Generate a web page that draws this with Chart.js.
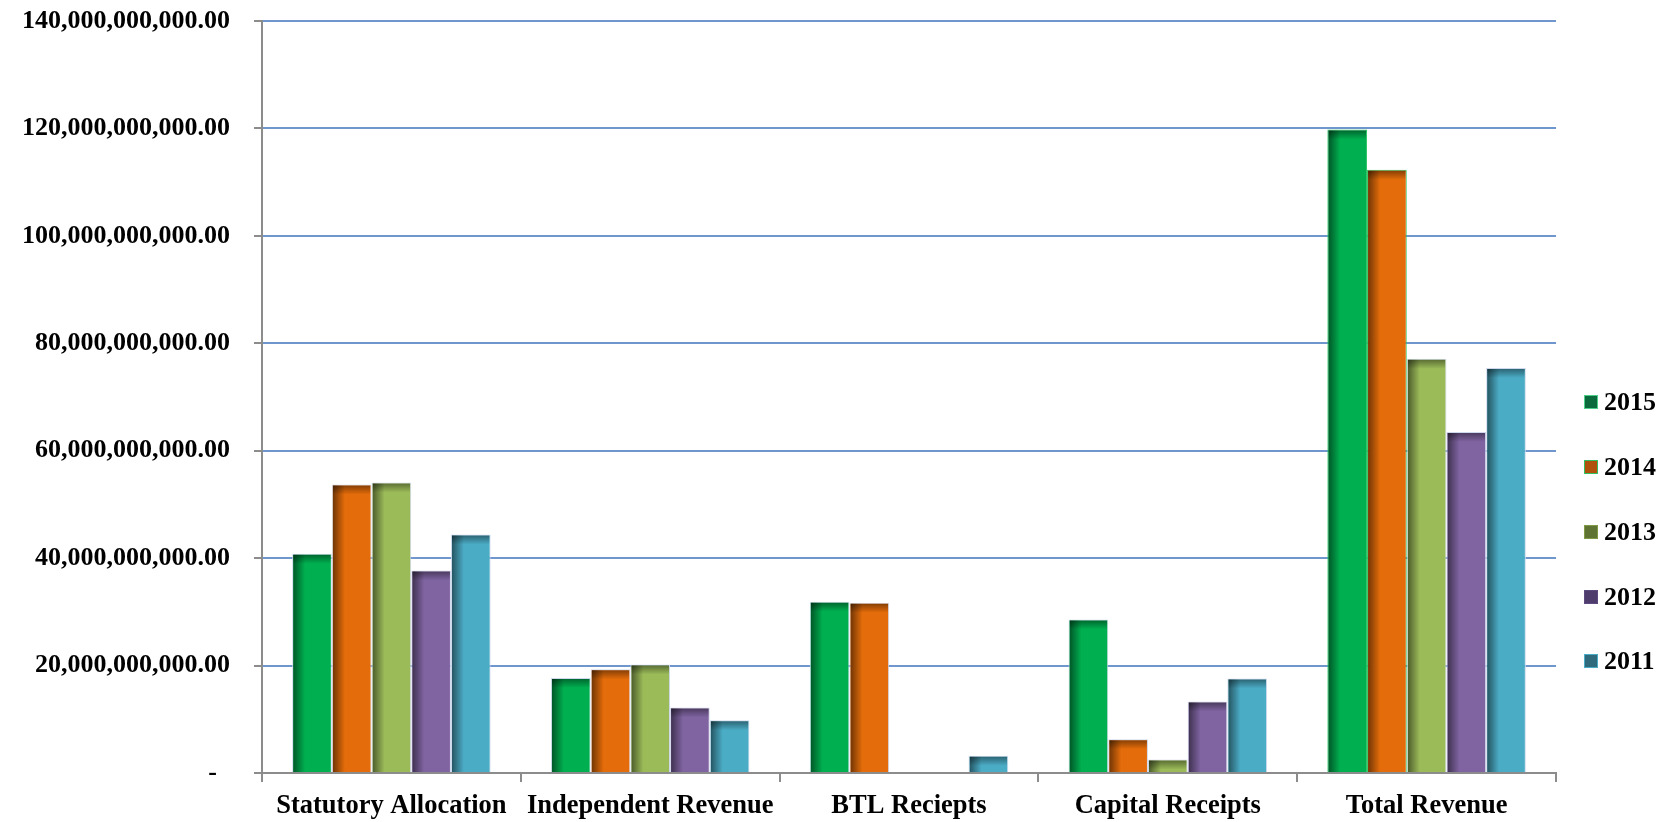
<!DOCTYPE html>
<html lang="en">
<head>
<meta charset="UTF-8" />
<title>Revenue by Source</title>
<script src="https://cdn.jsdelivr.net/npm/chart.js"></script>
<style>
  body {
    margin: 0;
    background: #ffffff;
  }

  #wrap {
    position: relative;
    width: 1664px;
    height: 822px;
  }

  #legend {
    position: absolute;
    left: 1584px;
    top: 370px;
    font-family: 'Liberation Serif', 'Times New Roman', serif;
    font-weight: bold;
    font-size: 26px;
    color: #000;
  }

  .item {
    height: 64.75px;
    display: flex;
    align-items: center;
  }

  .box {
    width: 12px;
    height: 12px;
    margin-right: 6px;
    border: 1px solid;
  }
</style>
</head>
<body>

<div id="wrap">
  <canvas id="revenueChart" width="1664" height="822"></canvas>
  <div id="legend"></div>
</div>

<script>
var categories = ["Statutory Allocation", "Independent Revenue", "BTL Reciepts", "Capital Receipts", "Total Revenue"];
var years = ["2015", "2014", "2013", "2012", "2011"];

var rev2015 = [40.8e9, 17.7e9, 31.9e9, 28.6e9, 119.8e9];
var rev2014 = [53.7e9, 19.3e9, 31.7e9, 6.3e9, 112.3e9];
var rev2013 = [54.1e9, 20.2e9, 0, 2.5e9, 77.1e9];
var rev2012 = [37.7e9, 12.2e9, 0, 13.3e9, 63.5e9];
var rev2011 = [44.4e9, 9.8e9, 3.2e9, 17.6e9, 75.4e9];

var yTicks = [0, 20e9, 40e9, 60e9, 80e9, 100e9, 120e9, 140e9];

var series = [rev2015, rev2014, rev2013, rev2012, rev2011];
var fills = ["#00b050", "#e46c0a", "#9bbb59", "#8064a2", "#4bacc6"];
var keyFills = ["#0b6b3c", "#b0520c", "#5f7433", "#4e3d6c", "#2f6b7c"];
var keyEdges = ["#4fd08a", "#30c060", "#7f9b45", "#5d4a7e", "#4bacc6"];

var fontFamily = "'Liberation Serif', 'Times New Roman', serif";

// darken the left and top edge of each bar, like a soft inner shadow
var innerShadow = {
  id: "innerShadow",
  afterDatasetDraw: function(chart, args) {
    var ctx = chart.ctx;
    args.meta.data.forEach(function(bar) {
      var p = bar.getProps(["x", "y", "base", "width"], true);
      var top = Math.min(p.y, p.base);
      var h = Math.abs(p.base - p.y);
      if (h < 1) return;
      var left = p.x - p.width / 2 + 1;
      var w = p.width - 2;
      ctx.save();
      ctx.beginPath();
      ctx.rect(left, top + 1, w, h - 1);
      ctx.clip();
      var g1 = ctx.createLinearGradient(left, 0, left + 12, 0);
      g1.addColorStop(0, "rgba(0,0,0,0.5)");
      g1.addColorStop(1, "rgba(0,0,0,0)");
      ctx.fillStyle = g1;
      ctx.fillRect(left, top, 12, h);
      var g2 = ctx.createLinearGradient(0, top, 0, top + 10);
      g2.addColorStop(0, "rgba(0,0,0,0.45)");
      g2.addColorStop(1, "rgba(0,0,0,0)");
      ctx.fillStyle = g2;
      ctx.fillRect(left, top, w, 10);
      ctx.restore();
    });
  }
};

var datasets = years.map(function(year, i) {
  return {
    label: year,
    data: series[i],
    backgroundColor: fills[i],
    borderColor: function(c) {
      return (c.dataIndex === 4 && i < 2) ? "#2cc461" : "#cfd8ec";
    },
    borderWidth: 1,
    borderSkipped: "bottom"
  };
});

var ctx = document.getElementById("revenueChart").getContext("2d");

window.myChart = new Chart(ctx, {
  type: "bar",
  data: {
    labels: categories,
    datasets: datasets
  },
  plugins: [innerShadow],
  options: {
    responsive: false,
    animation: false,
    layout: {
      padding: { top: 21, right: 108, bottom: 0, left: 0 }
    },
    datasets: {
      bar: {
        categoryPercentage: 0.767,
        barPercentage: 1.0
      }
    },
    plugins: {
      legend: { display: false },
      tooltip: { enabled: false }
    },
    scales: {
      x: {
        afterFit: function(s) {
          s.height = 49;
          s.paddingLeft = 0;
          s.paddingRight = 0;
        },
        grid: {
          drawOnChartArea: false,
          drawTicks: true,
          tickLength: 9,
          tickColor: "#8c8c8c",
          lineWidth: 2
        },
        border: { color: "#8c8c8c", width: 2 },
        ticks: {
          padding: 8,
          color: "#000",
          font: { family: fontFamily, size: 26.5, weight: "bold" }
        }
      },
      y: {
        min: 0,
        max: 140e9,
        afterFit: function(s) {
          s.width = 262;
          s.paddingTop = 0;
          s.paddingBottom = 0;
        },
        afterBuildTicks: function(s) {
          s.ticks = yTicks.map(function(v) { return { value: v }; });
        },
        grid: {
          color: function(c) {
            return c.tick && c.tick.value === 0 ? "rgba(0,0,0,0)" : "#6f97cd";
          },
          lineWidth: 2,
          tickLength: 8,
          tickColor: "#8c8c8c"
        },
        border: { color: "#8c8c8c", width: 2 },
        ticks: {
          padding: 24,
          color: "#000",
          font: { family: fontFamily, size: 26, weight: "bold" },
          callback: function(v) {
            if (v === 0) return "-  ";
            return Number(v).toLocaleString("en-US", { minimumFractionDigits: 2, maximumFractionDigits: 2 });
          }
        }
      }
    }
  }
});

// legend on the right
var legend = document.getElementById("legend");
years.forEach(function(year, i) {
  var item = document.createElement("div");
  item.className = "item";
  var box = document.createElement("span");
  box.className = "box";
  box.style.background = keyFills[i];
  box.style.borderColor = keyEdges[i];
  var txt = document.createElement("span");
  txt.textContent = year;
  item.appendChild(box);
  item.appendChild(txt);
  legend.appendChild(item);
});
</script>

</body>
</html>
